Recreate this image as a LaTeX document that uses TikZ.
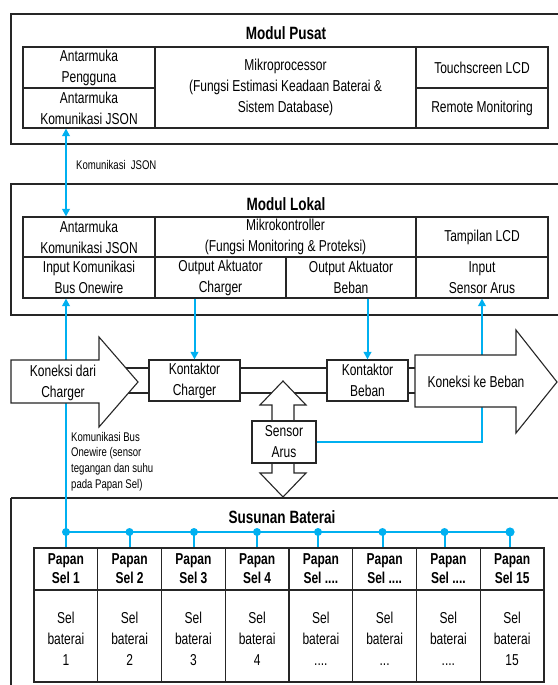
\documentclass[tikz,border=0pt]{standalone}
\usepackage{fontspec}
\setmainfont[FakeStretch=0.76]{Liberation Sans}
\usetikzlibrary{arrows.meta,calc}
\definecolor{cyanline}{HTML}{00B0F0}
\definecolor{edge}{HTML}{262626}
\newcommand\fdotsx{....}
\newcommand\tdotsx{...}
\begin{document}
\begin{tikzpicture}[x=1pt,y=-1pt,
  cell/.style={draw=edge, line width=1.1pt, inner sep=0pt, align=center, font=\fontsize{15.8}{21}\selectfont},
  boldcell/.style={cell, font=\fontsize{15.8}{19}\selectfont\bfseries},
  shapebox/.style={draw=edge, line width=1.1pt, fill=white},
  outer/.style={draw=edge, line width=1.3pt},
  ttl/.style={font=\fontsize{17.8}{20}\selectfont\bfseries, inner sep=0pt},
  lbl/.style={font=\fontsize{15.8}{21}\selectfont, inner sep=0pt, align=center},
  note/.style={font=\fontsize{12.6}{15.7}\selectfont, inner sep=0pt, align=left},
  wire/.style={draw=edge, line width=1.1pt},
  bl/.style={draw=cyanline, line width=2pt},
  tipb/.tip={Triangle[length=7.5pt,width=7.5pt]},
  blarrow/.style={bl, -tipb},
  blboth/.style={bl, tipb-tipb}
]
\useasboundingbox (0,0) rectangle (557,685);
\fill[white] (0,0) rectangle (557,685);

% ---------- Modul Pusat ----------
\draw[outer] (11,14) rectangle (575,144);
\node[ttl] (tpusat) at (286,33) {Modul Pusat};
\node[cell, minimum width=132pt, minimum height=41pt] (pa) at (89,67.5) {Antarmuka\\Pengguna};
\node[cell, minimum width=132pt, minimum height=40pt] (pj) at (89,108) {Antarmuka\\Komunikasi JSON};
\node[cell, minimum width=261pt, minimum height=81pt] (pm) at (285.5,87.5) {Mikroprocessor\\(Fungsi Estimasi Keadaan Baterai \&\\Sistem Database)};
\node[cell, minimum width=132pt, minimum height=41pt] (pt) at (482,67.5) {Touchscreen LCD};
\node[cell, minimum width=132pt, minimum height=40pt] (pr) at (482,108) {Remote Monitoring};

% ---------- Modul Lokal ----------
\draw[outer] (11,184) rectangle (575,315);
\node[ttl] (tlokal) at (286,204) {Modul Lokal};
\node[cell, minimum width=132pt, minimum height=40pt] (la) at (89,237) {Antarmuka\\Komunikasi JSON};
\node[cell, minimum width=261pt, minimum height=40pt] (lm) at (285.5,237) {Mikrokontroller\\(Fungsi Monitoring \& Proteksi)};
\node[cell, minimum width=132pt, minimum height=40pt] (ll) at (482,237) {Tampilan LCD};
\node[cell, minimum width=132pt, minimum height=41pt] (lb) at (89,277.5) {Input Komunikasi\\Bus Onewire};
\node[cell, minimum width=131pt, minimum height=41pt] (lc) at (220.5,277.5) {Output Aktuator\\Charger};
\node[cell, minimum width=130pt, minimum height=41pt] (lbe) at (351,277.5) {Output Aktuator\\Beban};
\node[cell, minimum width=132pt, minimum height=41pt] (ls) at (482,277.5) {Input\\Sensor Arus};

% ---------- Susunan Baterai ----------
\draw[outer] (11,498) -- (11,700);
\draw[outer] (11,498) -- (575,498);
\node[ttl] (tsusun) at (282,517) {Susunan Baterai};
\foreach \i/\p/\b in {1/1/1, 2/2/2, 3/3/3, 4/4/4, 5/\fdotsx/\fdotsx, 6/\fdotsx/\tdotsx, 7/\fdotsx/\fdotsx, 8/15/15}{
  \pgfmathsetmacro{\cx}{65.875+63.75*(\i-1)}
  \node[boldcell, minimum width=63.75pt, minimum height=42pt] (s\i) at (\cx,569) {Papan\\Sel \p};
  \node[cell, minimum width=63.75pt, minimum height=92pt] (c\i) at (\cx,636) {};
  \node[lbl] (ct\i) at (\cx,639) {Sel\\baterai\\\b};
}

% ---------- coordinates ----------
\coordinate (d1) at (66,532);
\coordinate (d2) at (129.5,532);
\coordinate (d3) at (194,532);
\coordinate (d4) at (257,532);
\coordinate (d5) at (318,532);
\coordinate (d6) at (382.5,532);
\coordinate (d7) at (444.5,532);
\coordinate (d8) at (510,532);
\coordinate (ya) at (0,368);
\coordinate (yb) at (0,393);
\coordinate (cl) at (112,0);
\coordinate (cr) at (430,0);

% ---------- middle row boxes ----------
\node[cell, fill=white, minimum width=91pt, minimum height=41pt] (kc) at (194.5,380.5) {Kontaktor\\Charger};
\node[cell, fill=white, minimum width=81pt, minimum height=41pt] (kb) at (367.5,380.5) {Kontaktor\\Beban};

% ---------- conductor lines ----------
\draw[wire] (cl |- ya) -- (kc.west |- ya);
\draw[wire] (cl |- yb) -- (kc.west |- yb);
\draw[wire] (kc.east |- ya) -- (kb.west |- ya);
\draw[wire] (kc.east |- yb) -- (kb.west |- yb);
\draw[wire] (kb.east |- ya) -- (cr |- ya);
\draw[wire] (kb.east |- yb) -- (cr |- yb);

% ---------- blue connectors ----------
\draw[blboth] (pj.south -| d1) -- (la.north -| d1);
\node[note, anchor=west] (njson) at (76,165) {Komunikasi\hspace{2.5pt} JSON};
\draw[blarrow] (s1.north -| d1) -- (lb.south -| d1);
\draw[blarrow] (lc.south -| kc) -- (kc.north);
\draw[blarrow] (lbe.south -| kb) -- (kb.north);
\draw[bl] (d1) -- (d8);
\foreach \k in {2,...,8}{ \draw[bl] (d\k) -- (s\k.north -| d\k); }
\foreach \k in {1,...,7}{ \fill[cyanline] (d\k) circle[radius=4pt]; }
\fill[cyanline] (d8) circle[radius=4.6pt];

\coordinate (sx) at (316,442);
\draw[blarrow] (sx) -| (ls.south);

% ---------- block arrows ----------
\draw[shapebox] (11,360) -- (99,360) -- (99,337) -- (138,382) -- (99,427) -- (99,403) -- (11,403) -- cycle;
\node[lbl] (kdc) at (63,383) {Koneksi dari\\Charger};
\draw[shapebox] (415,355) -- (516,355) -- (516,330) -- (557,382) -- (516,433) -- (516,407) -- (415,407) -- cycle;
\node[lbl] (kkb) at (476,382) {Koneksi ke Beban};
\draw[shapebox] (283,381) -- (306,405) -- (294,405) -- (294,473) -- (306,473) -- (283,497) -- (260,473) -- (272,473) -- (272,405) -- (260,405) -- cycle;
\node[cell, fill=white, minimum width=64pt, minimum height=42pt] (sa) at (284,442) {Sensor\\Arus};

\node[note, anchor=west] (nbus) at (71,461.5) {Komunikasi Bus\\Onewire (sensor\\tegangan dan suhu\\pada Papan Sel)};
\end{tikzpicture}
\end{document}
